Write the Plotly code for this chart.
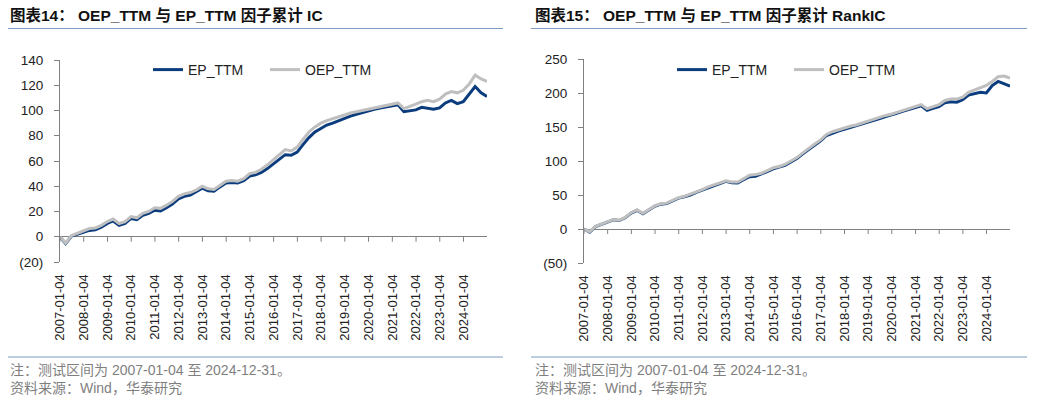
import plotly.graph_objects as go

W, H = 1037, 403

# ---------------- data ----------------
quarter_dates = ["2007-01-04"] + [f"{y}-{m:02d}-01" for y in range(2007, 2025) for m in (1, 4, 7, 10)][1:] + ["2024-12-31"]

ic_ep = [0, -5.5, 0.5, 2, 4, 5, 5.5, 7.5, 10.5, 12.5, 9, 10.5, 14.5, 13.5, 17, 18.5,
         21, 20.5, 23, 26, 30, 32, 33, 35.5, 38.5, 36.5, 36, 39.5, 42.5, 43, 42.5, 44.5,
         48, 49, 51, 54, 57.5, 61, 65, 64.5, 67, 73, 78.5, 83, 86, 88.5, 90, 92,
         94, 95.5, 97, 98.5, 100, 101, 102, 103, 104, 104.5, 99, 99.5, 100.5, 102.5, 102, 101,
         102, 106, 108, 105.5, 107, 113, 119, 114, 111]
ic_oep = [0, -5, 1, 3, 5, 6.5, 7, 9, 12, 14, 10.5, 12, 16, 15, 18.5, 20,
          23, 22.5, 25, 28, 32, 34, 35, 37, 40, 38, 37.5, 41, 44, 44.5, 44, 46,
          50, 51, 53.5, 57, 61, 65, 69, 68, 71, 77, 83, 87, 90, 92, 93.5, 95,
          97, 98, 99, 100, 101, 102, 103, 104, 105, 106, 101.5, 103, 105, 107, 108, 107,
          109, 113, 115, 114, 116, 121, 128, 125, 123]

ric_ep = [0, -4.5, 3.5, 6.5, 10.5, 13.5, 12.5, 16.5, 23.5, 27.5, 22.5, 27.5, 33.5, 36.5, 37.5, 41.5,
          45.5, 47.5, 50, 54, 57, 61, 64, 66, 70, 68, 67.5, 72.5, 77, 77.5, 80.5, 84.5,
          88.5, 90.5, 93.5, 98.5, 103.5, 110.5, 117, 123, 129.5, 137.5, 141, 144, 146.5, 149, 151.5, 154.5,
          157.5, 160, 162.5, 165.5, 167.5, 170.5, 173.5, 175.5, 178.5, 181, 174.5, 177.5, 180, 185.5, 187, 186.5,
          190, 197, 199, 201, 200, 211, 217, 213, 210]
ric_oep = [0, -4, 4, 7, 11, 14, 13, 17, 24, 28, 23, 28, 34, 37, 38, 42,
           46, 48, 51, 55, 58, 62, 65, 67, 71, 69, 69, 74, 79, 80, 82, 86,
           90, 92, 95, 100, 105, 112, 119, 125, 131, 139, 143, 146, 148, 151, 153, 156,
           159, 161, 164, 167, 169, 172, 175, 177, 180, 183, 177, 180, 183, 189, 191, 191,
           194, 201, 204, 207, 211, 217, 224, 225, 222]

year_ticks = [f"{y}-01-04" for y in range(2007, 2025)]
ic_ticks = [-20, 0, 20, 40, 60, 80, 100, 120, 140]
ic_ticktext = ["(20)", "0", "20", "40", "60", "80", "100", "120", "140"]
ric_ticks = [-50, 0, 50, 100, 150, 200, 250]
ric_ticktext = ["(50)", "0", "50", "100", "150", "200", "250"]

titles = ["图表14： OEP_TTM 与 EP_TTM 因子累计 IC", "图表15： OEP_TTM 与 EP_TTM 因子累计 RankIC"]
note = "注：测试区间为 2007-01-04 至 2024-12-31。"
source = "资料来源：Wind，华泰研究"

# ---------------- style ----------------
NAVY = "#0B3C7D"
GREY = "#BFBFBF"
AXIS = "#808080"
RULE = "#7C9CC2"
LATIN = "Liberation Sans, Arial, Noto Sans CJK SC, sans-serif"
px = lambda v: v / W
py = lambda v: 1 - v / H

fig = go.Figure()
fig.add_trace(go.Scatter(x=quarter_dates, y=ic_ep, name="EP_TTM", mode="lines",
                         line=dict(color=NAVY, width=3), xaxis="x", yaxis="y", legend="legend"))
fig.add_trace(go.Scatter(x=quarter_dates, y=ic_oep, name="OEP_TTM", mode="lines",
                         line=dict(color=GREY, width=3), xaxis="x", yaxis="y", legend="legend"))
fig.add_trace(go.Scatter(x=quarter_dates, y=ric_ep, name="EP_TTM", mode="lines",
                         line=dict(color=NAVY, width=3), xaxis="x2", yaxis="y2", legend="legend2"))
fig.add_trace(go.Scatter(x=quarter_dates, y=ric_oep, name="OEP_TTM", mode="lines",
                         line=dict(color=GREY, width=3), xaxis="x2", yaxis="y2", legend="legend2"))

xcommon = dict(type="date", range=["2007-01-04", "2024-12-31"], tickvals=year_ticks,
               ticktext=year_ticks, tickangle=-90, showline=False, showgrid=False,
               zeroline=False, ticks="outside", ticklen=6, tickcolor="rgba(0,0,0,0)",
               tickfont=dict(family=LATIN, size=13, color="#222"), automargin=False)
ycommon = dict(showline=True, linecolor=AXIS, linewidth=1, showgrid=False,
               zeroline=True, zerolinecolor=AXIS, zerolinewidth=1,
               ticks="outside", ticklen=5, tickcolor=AXIS, ticklabelstandoff=8,
               tickfont=dict(family=LATIN, size=13.5, color="#222"), automargin=False)

fig.update_layout(
    width=W, height=H, margin=dict(l=0, r=0, t=0, b=0, pad=0, autoexpand=False),
    paper_bgcolor="white", plot_bgcolor="white",
    xaxis=dict(domain=[px(60), px(487)], anchor="y", **xcommon),
    yaxis=dict(domain=[py(262), py(60)], anchor="x", range=[-20, 140],
               tickvals=ic_ticks, ticktext=ic_ticktext, **ycommon),
    xaxis2=dict(domain=[px(584), px(1010)], anchor="y2", **xcommon),
    yaxis2=dict(domain=[py(263), py(59)], anchor="x2", range=[-50, 250],
                tickvals=ric_ticks, ticktext=ric_ticktext, **ycommon),
    legend=dict(orientation="h", x=px(148), y=py(54), xanchor="left", yanchor="top",
                font=dict(family=LATIN, size=14, color="#222"), bgcolor="rgba(0,0,0,0)",
                entrywidth=72),
    legend2=dict(orientation="h", x=px(672), y=py(54), xanchor="left", yanchor="top",
                 font=dict(family=LATIN, size=14, color="#222"), bgcolor="rgba(0,0,0,0)",
                 entrywidth=72),
    showlegend=True,
)

# x-axis ticks on the zero line
shapes = []
for xref, yref in (("x", "y"), ("x2", "y2")):
    for d in year_ticks:
        shapes.append(dict(type="line", xref=xref, yref=yref, x0=d, x1=d,
                           ysizemode="pixel", yanchor=0, y0=0, y1=-5,
                           line=dict(color=AXIS, width=1)))
# title and footer rules
for x0, x1 in ((8, 503), (531, 1027)):
    for yy in (28.5, 357):
        shapes.append(dict(type="line", xref="paper", yref="paper", x0=px(x0), x1=px(x1),
                           y0=py(yy), y1=py(yy), line=dict(color=RULE, width=1.2)))
fig.update_layout(shapes=shapes)

ann = []
for t, x0 in zip(titles, (8, 533)):
    ann.append(dict(text=f"<b>{t}</b>", xref="paper", yref="paper", x=px(x0), y=py(15),
                    xanchor="left", yanchor="middle", showarrow=False,
                    font=dict(family=LATIN, size=15.5, color="#111")))
    ann.append(dict(text=note, xref="paper", yref="paper", x=px(x0), y=py(370),
                    xanchor="left", yanchor="middle", showarrow=False,
                    font=dict(family=LATIN, size=14, color="#7F7F7F")))
    ann.append(dict(text=source, xref="paper", yref="paper", x=px(x0), y=py(388),
                    xanchor="left", yanchor="middle", showarrow=False,
                    font=dict(family=LATIN, size=14, color="#7F7F7F")))
fig.update_layout(annotations=ann)

fig.write_html("out.html", config={"displayModeBar": False},
               post_script="document.body.style.margin='0';document.body.style.padding='0';")
